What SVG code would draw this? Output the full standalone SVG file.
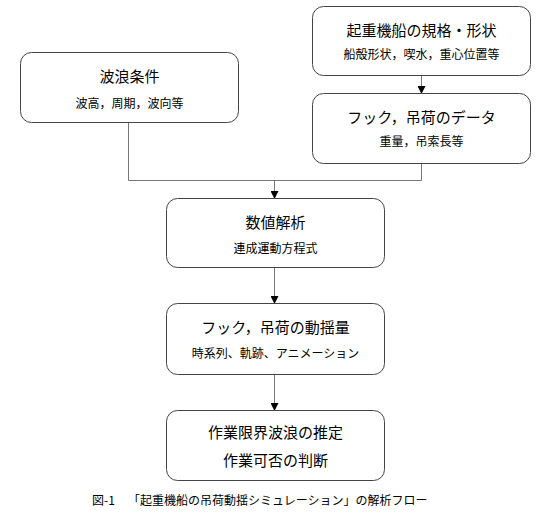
<svg xmlns="http://www.w3.org/2000/svg" width="540" height="523" viewBox="0 0 540 523">
<defs>
<style>
.box{fill:#fff;stroke:#444;stroke-width:1}
.t{font-family:"Noto Sans CJK JP","Liberation Sans",sans-serif;fill:#000;text-anchor:middle}
.h{font-size:15px}
.s{font-size:12px}
.c{fill:none;stroke:#777;stroke-width:1}
</style>
<marker id="ah" markerWidth="8" markerHeight="8" refX="7" refY="4" orient="auto" markerUnits="userSpaceOnUse">
<path d="M0,0 L8,4 L0,8 Z" fill="#000"/>
</marker>
</defs>
<rect width="540" height="523" fill="#fff"/>
<g id="connectors">
<path class="c" d="M421.5,76 V93" marker-end="url(#ah)"/>
<path class="c" d="M128.5,123 V180.5 H421.5 V164"/>
<path class="c" d="M274.5,180.5 V198" marker-end="url(#ah)"/>
<path class="c" d="M274.5,268 V303" marker-end="url(#ah)"/>
<path class="c" d="M274.5,375 V410" marker-end="url(#ah)"/>
</g>
<g id="node-spec">
<rect class="box" x="312.5" y="6.5" width="218" height="69" rx="11"/>
<text class="t h" x="421.5" y="36">起重機船の規格・形状</text>
<text class="t s" x="421.5" y="58.5">船殻形状，喫水，重心位置等</text>
</g>
<g id="node-hook-data">
<rect class="box" x="312.5" y="93.5" width="218" height="70" rx="11"/>
<text class="t h" x="421.5" y="123">フック，吊荷のデータ</text>
<text class="t s" x="421.5" y="145.5">重量，吊索長等</text>
</g>
<g id="node-wave">
<rect class="box" x="20.5" y="52.5" width="218" height="70" rx="11"/>
<text class="t h" x="129.5" y="82">波浪条件</text>
<text class="t s" x="129.5" y="107.5">波高，周期，波向等</text>
</g>
<g id="node-analysis">
<rect class="box" x="166.5" y="198.5" width="218" height="69" rx="11"/>
<text class="t h" x="275.5" y="227.5">数値解析</text>
<text class="t s" x="275.5" y="252.5">連成運動方程式</text>
</g>
<g id="node-motion">
<rect class="box" x="166.5" y="303.5" width="218" height="71" rx="11"/>
<text class="t h" x="275.5" y="332.5">フック，吊荷の動揺量</text>
<text class="t s" x="275.5" y="357.5">時系列、軌跡、アニメーション</text>
</g>
<g id="node-judge">
<rect class="box" x="166.5" y="410.5" width="218" height="70" rx="11"/>
<text class="t h" x="275.5" y="437.5">作業限界波浪の推定</text>
<text class="t h" x="275.5" y="465.5">作業可否の判断</text>
</g>
<text class="t s" x="92" y="504.5" style="text-anchor:start">図-1<tspan x="128">「起重機船の吊荷動揺シミュレーション」の解析フロー</tspan></text>
</svg>
